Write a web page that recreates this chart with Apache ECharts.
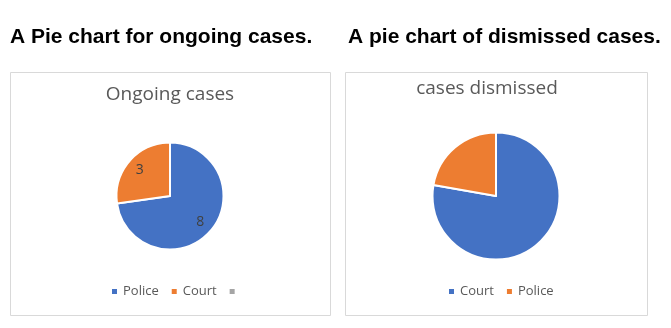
<!DOCTYPE html>
<html>
<head>
<meta charset="utf-8">
<script src="https://cdn.jsdelivr.net/npm/echarts@6/dist/echarts.min.js"></script>
<style>
  html, body { margin: 0; padding: 0; background: #fff; }
  #chart { width: 671px; height: 328px; }
</style>
</head>
<body>
<div id="chart"></div>
<script>
// Ongoing cases by handling body (third category left blank)
const ongoingNames = ['Police', 'Court', ' '];
const ongoingValues = [8, 3, '-'];
// Dismissed cases by handling body
const dismissedNames = ['Court', 'Police'];
const dismissedValues = [7, 2];

const headingLeft = 'A Pie chart for ongoing cases.';
const headingRight = 'A pie chart of dismissed cases.';
const titleLeft = 'Ongoing cases';
const titleRight = 'cases dismissed';

const palette = ['#4472C4', '#ED7D31', '#A5A5A5'];
const chartFont = '"Open Sans", "Noto Sans", sans-serif';

function toData(names, values) {
  return names.map((n, i) => ({ name: n, value: values[i], itemStyle: { color: palette[i] } }));
}
function legendData(names) {
  return names.map((n, i) => ({ name: n, itemStyle: { color: palette[i] } }));
}

const chart = echarts.init(document.getElementById('chart'), null, { renderer: 'canvas' });

const legendBase = {
  orient: 'horizontal',
  icon: 'rect',
  itemWidth: 7,
  itemHeight: 7,
  itemGap: 11,
  padding: 0,
  selectedMode: false,
  textStyle: { color: '#595959', fontSize: 13, fontFamily: chartFont }
};

chart.setOption({
  backgroundColor: '#ffffff',
  animation: false,
  graphic: [
    { type: 'rect', shape: { x: 10.5, y: 72.5, width: 320, height: 243 },
      style: { fill: '#fff', stroke: '#d9d9d9', lineWidth: 1 }, z: -10 },
    { type: 'rect', shape: { x: 345.5, y: 72.5, width: 302, height: 243 },
      style: { fill: '#fff', stroke: '#d9d9d9', lineWidth: 1 }, z: -10 },
    { type: 'text', x: 10, y: 37,
      style: { text: headingLeft, fill: '#000', font: 'bold 21px "Liberation Sans", Arial, sans-serif',
               textAlign: 'left', textVerticalAlign: 'middle' } },
    { type: 'text', x: 348, y: 37,
      style: { text: headingRight, fill: '#000', font: 'bold 21px "Liberation Sans", Arial, sans-serif',
               textAlign: 'left', textVerticalAlign: 'middle' } },
    { type: 'text', x: 170, y: 95,
      style: { text: titleLeft, fill: '#595959', font: '19px ' + chartFont,
               textAlign: 'center', textVerticalAlign: 'middle' } },
    { type: 'text', x: 487, y: 89,
      style: { text: titleRight, fill: '#595959', font: '19px ' + chartFont,
               textAlign: 'center', textVerticalAlign: 'middle' } }
  ],
  legend: [
    Object.assign({}, legendBase, { data: legendData(ongoingNames), left: 110, top: 285 }),
    Object.assign({}, legendBase, { data: legendData(dismissedNames), left: 447, top: 285 })
  ],
  series: [
    {
      type: 'pie',
      center: [170, 196],
      radius: 53.5,
      startAngle: 90,
      clockwise: true,
      label: { show: false },
      labelLine: { show: false },
      itemStyle: { borderColor: '#fff', borderWidth: 2 },
      emphasis: { disabled: true },
      data: toData(ongoingNames, ongoingValues)
    },
    {
      // value labels for the ongoing pie, set at 70% of its radius
      type: 'pie',
      center: [170, 196],
      radius: 74,
      startAngle: 90,
      clockwise: true,
      silent: true,
      legendHoverLink: false,
      z: 3,
      itemStyle: { color: 'rgba(0,0,0,0)', borderWidth: 0 },
      label: { show: true, position: 'inside', color: '#404040', fontSize: 14, fontFamily: chartFont,
               formatter: p => String(p.value) },
      labelLine: { show: false },
      emphasis: { disabled: true },
      data: ongoingNames.map((n, i) => ({ name: n, value: ongoingValues[i] }))
    },
    {
      type: 'pie',
      center: [496, 196],
      radius: 63.5,
      startAngle: 90,
      clockwise: true,
      label: { show: false },
      labelLine: { show: false },
      itemStyle: { borderColor: '#fff', borderWidth: 2 },
      emphasis: { disabled: true },
      data: toData(dismissedNames, dismissedValues)
    }
  ]
});
</script>
</body>
</html>
